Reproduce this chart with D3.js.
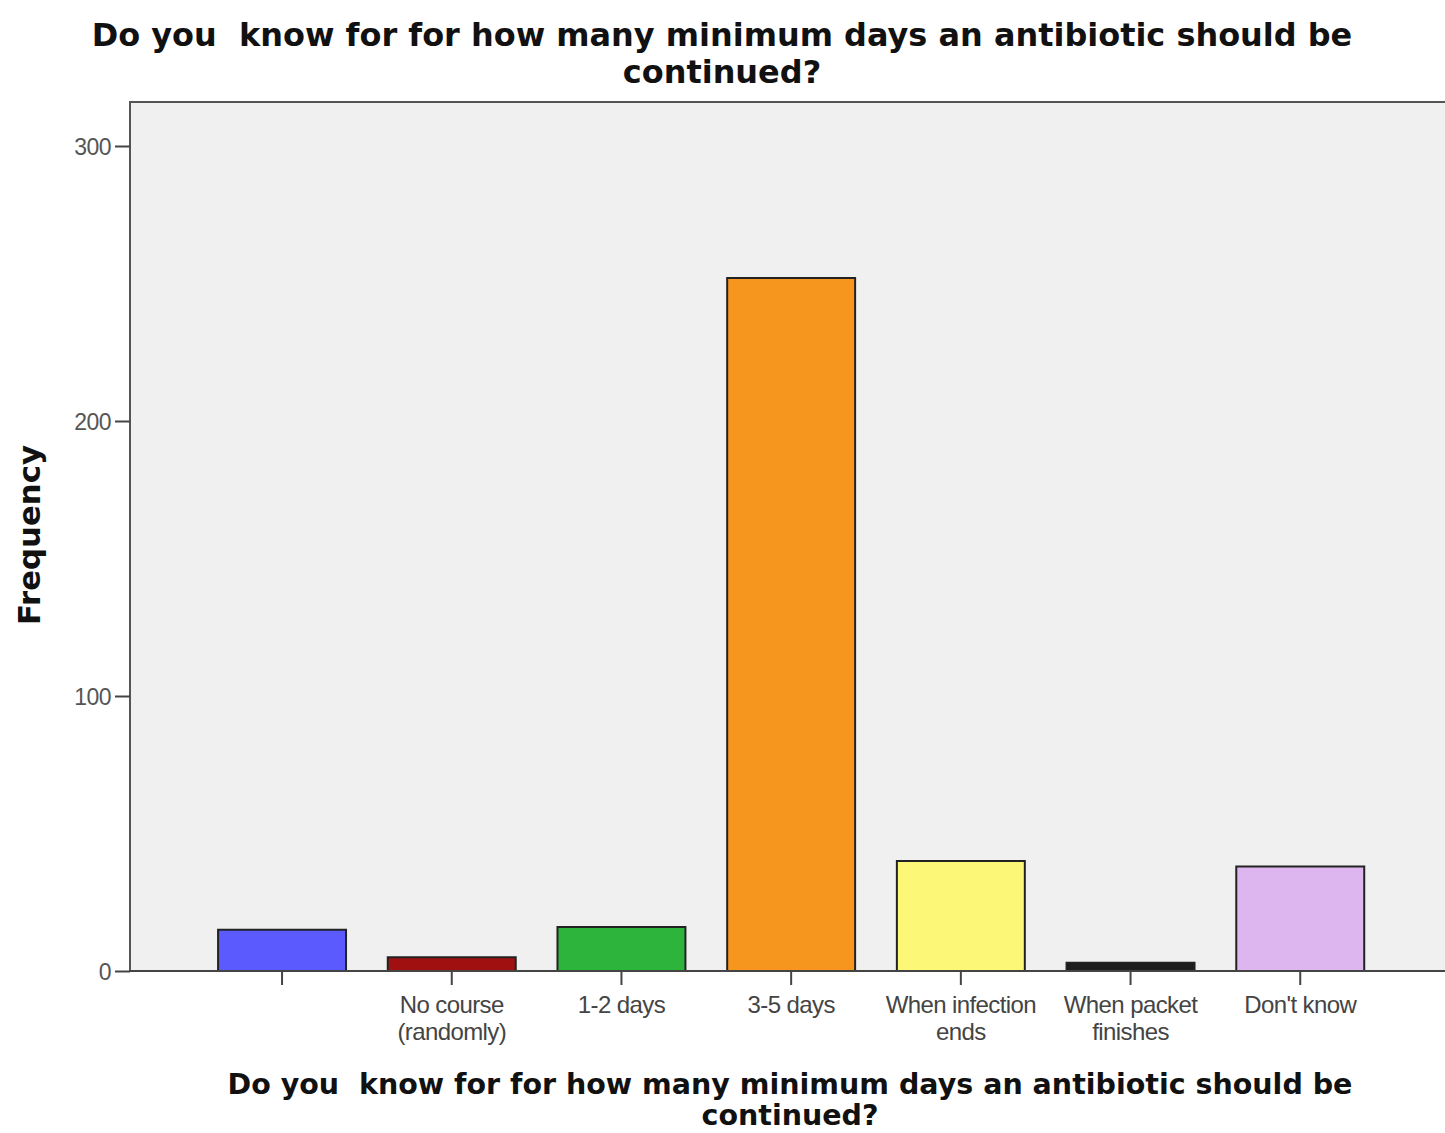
<!DOCTYPE html>
<html><head><meta charset="utf-8">
<script src="https://cdn.jsdelivr.net/npm/d3@7"></script>
<style>body{margin:0;background:#fff}svg{display:block}</style>
</head><body>
<svg id="c" width="1445" height="1133"></svg>
<script>
const categories = ["", "No course\n(randomly)", "1-2 days", "3-5 days", "When infection\nends", "When packet\nfinishes", "Don't know"];
const values = [15, 5, 16, 252, 40, 3, 38];
const colors = ["#5a5aff", "#a01010", "#2db43c", "#f7961e", "#fcf777", "#1e1e1e", "#ddb6ef"];
const yTicks = [0, 100, 200, 300];
const titleLines = ["Do you\u00a0 know for for how many minimum days an antibiotic should be", "continued?"];
const yLabel = "Frequency";

const svg = d3.select("#c");
const plot = {left: 130, top: 102, right: 1447, bottom: 971};

const y = d3.scaleLinear().domain([0, 300]).range([971, 146]);
const x = d3.scaleBand().domain(d3.range(categories.length))
  .range([197.2, 197.2 + 7 * 169.7]).paddingInner(0.246).paddingOuter(0.123);

function fitText(sel, target) {
  const w = sel.node().getComputedTextLength();
  const fs = parseFloat(sel.style("font-size"));
  sel.style("font-size", (fs * target / w) + "px");
}

svg.append("rect").attr("x", plot.left).attr("y", plot.top)
  .attr("width", plot.right - plot.left).attr("height", plot.bottom - plot.top)
  .attr("fill", "#f0f0f0").attr("stroke", "#555").attr("stroke-width", 2);

svg.selectAll("rect.bar").data(values).join("rect").attr("class", "bar")
  .attr("x", (d, i) => x(i)).attr("width", x.bandwidth())
  .attr("y", d => y(d)).attr("height", d => y(0) - y(d))
  .attr("fill", (d, i) => colors[i]).attr("stroke", "#222").attr("stroke-width", 2);

// baseline
svg.append("line").attr("x1", plot.left).attr("x2", plot.right)
  .attr("y1", y(0)).attr("y2", y(0)).attr("stroke", "#444").attr("stroke-width", 2);

const lf = "Liberation Sans, Arial, sans-serif";
// y axis
const yAxis = svg.append("g").attr("transform", `translate(${plot.left},0)`)
  .call(d3.axisLeft(y).tickValues(yTicks).tickSize(15).tickPadding(4));
yAxis.select(".domain").remove();
yAxis.selectAll(".tick line").attr("stroke", "#444").attr("stroke-width", 2);
yAxis.selectAll(".tick text").attr("fill", "#555").style("font-family", lf)
  .style("font-size", "23px").attr("dy", "0.35em").style("letter-spacing", "-0.5px");

// x axis
const xAxis = svg.append("g").attr("transform", `translate(0,${y(0)})`)
  .call(d3.axisBottom(x).tickSize(14).tickFormat(""));
xAxis.select(".domain").remove();
xAxis.selectAll(".tick line").attr("stroke", "#444").attr("stroke-width", 2);
xAxis.selectAll(".tick").each(function(d) {
  const lines = categories[d].split("\n");
  const t = d3.select(this).append("text").attr("fill", "#444")
    .attr("text-anchor", "middle")
    .style("font-family", lf).style("font-size", "24px").style("letter-spacing", "-0.6px");
  lines.forEach((l, k) => t.append("tspan").attr("x", 0).attr("y", 42 + k * 27).text(l));
});

// title
const tf = "DejaVu Sans, Verdana, sans-serif";
const t1 = svg.append("text").attr("x", 722).attr("y", 46).attr("text-anchor", "middle")
  .style("font-family", tf).style("font-weight", "bold").style("font-size", "30px").attr("fill", "#111").text(titleLines[0]);
fitText(t1, 1261);
svg.append("text").attr("x", 722).attr("y", 83).attr("text-anchor", "middle")
  .style("font-family", tf).style("font-weight", "bold").style("font-size", t1.style("font-size")).attr("fill", "#111").text(titleLines[1]);

// x axis title
const a1 = svg.append("text").attr("x", 790).attr("y", 1094).attr("text-anchor", "middle")
  .style("font-family", tf).style("font-weight", "bold").style("font-size", "28px").attr("fill", "#111").text(titleLines[0]);
fitText(a1, 1125);
svg.append("text").attr("x", 790).attr("y", 1125).attr("text-anchor", "middle")
  .style("font-family", tf).style("font-weight", "bold").style("font-size", a1.style("font-size")).attr("fill", "#111").text(titleLines[1]);

// y label
const yl = svg.append("text").attr("transform", "translate(40,535) rotate(-90)").attr("text-anchor", "middle")
  .style("font-family", tf).style("font-weight", "bold").style("font-size", "26px").attr("fill", "#111").text(yLabel);
fitText(yl, 180);
</script>
</body></html>
